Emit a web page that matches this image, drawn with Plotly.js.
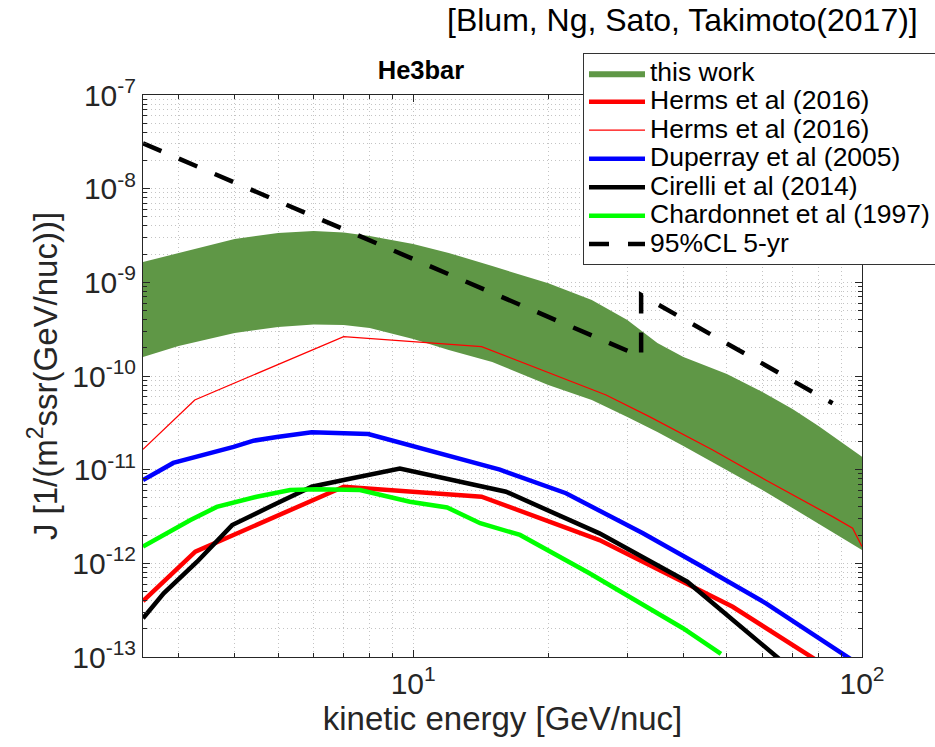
<!DOCTYPE html>
<html><head><meta charset="utf-8">
<script src="https://cdn.plot.ly/plotly-3.0.1.min.js"></script>
<style>html,body{margin:0;padding:0;background:#fff}</style>
</head><body>
<div id="chart" style="width:935px;height:747px"></div>
<script>
// ---- data ----
const bandE    = [2.5, 3, 4, 5, 6, 7, 8, 10, 12, 15, 20, 25, 30, 35, 40, 50, 60, 70, 80, 100];
const bandLow  = [1.60e-10, 2.09e-10, 2.88e-10, 3.34e-10, 3.55e-10, 3.51e-10, 3.26e-10, 2.48e-10, 1.90e-10, 1.41e-10,
                  8.02e-11, 5.55e-11, 3.65e-11, 2.52e-11, 1.79e-11, 9.93e-12, 6.07e-12, 3.90e-12, 2.63e-12, 1.39e-12];
const bandHigh = [1.65e-9, 2.06e-9, 2.90e-9, 3.36e-9, 3.53e-9, 3.40e-9, 3.13e-9, 2.56e-9, 2.06e-9, 1.49e-9,
                  9.8e-10, 6.48e-10, 3.96e-10, 2.25e-10, 1.60e-10, 1.05e-10, 6.75e-11, 4.44e-11, 2.92e-11, 1.37e-11];

const hermsE = [2.5, 3.27, 7.0, 14.2, 26.0, 40.6, 51.5, 80];
const hermsJ = [3.96e-13, 1.33e-12, 6.58e-12, 5.15e-12, 1.77e-12, 6.12e-13, 3.44e-13, 8.95e-14];

const hermsThinE = [2.5, 3.26, 7.0, 14.2, 26.9, 33.6, 46.5, 61.0, 86.0, 95.3, 100];
const hermsThinJ = [1.65e-11, 5.55e-11, 2.63e-10, 2.06e-10, 6.27e-11, 3.68e-11, 1.62e-11, 7.76e-12, 3.15e-12, 2.37e-12, 1.51e-12];

const duperrayE = [2.5, 2.92, 3.98, 4.41, 4.97, 5.94, 7.94, 9.83, 12.9, 15.6, 21.9, 32.5, 43.4, 61.1, 95];
const duperrayJ = [7.76e-12, 1.18e-11, 1.75e-11, 2.04e-11, 2.23e-11, 2.51e-11, 2.40e-11, 1.83e-11, 1.27e-11, 1.00e-11,
                   5.6e-12, 2.09e-12, 9.6e-13, 3.74e-13, 9.3e-14];

const cirelliE = [2.5, 2.78, 3.30, 3.95, 4.88, 5.94, 7.0, 8.0, 9.34, 16.1, 26.0, 40.8, 66];
const cirelliJ = [2.59e-13, 4.79e-13, 1.04e-12, 2.56e-12, 4.2e-12, 6.58e-12, 7.76e-12, 8.77e-12, 1.03e-11, 5.82e-12,
                  2.09e-12, 6.37e-13, 9.2e-14];

const chardonnetE = [2.5, 3.19, 3.65, 4.48, 5.32, 6.10, 7.61, 9.83, 11.9, 14.1, 17.3, 24.7, 39.9, 48.5];
const chardonnetJ = [1.51e-12, 2.9e-12, 4.0e-12, 5.14e-12, 6.07e-12, 6.17e-12, 6.07e-12, 4.55e-12, 3.95e-12, 2.68e-12,
                     2.01e-12, 7.83e-13, 2.03e-13, 1.08e-13];

const clE = [2.5, 32.2, 32.2, 86];
const clJ = [3.05e-8, 1.61e-10, 7.33e-10, 5.11e-11];

const seriesNames = ['this work', 'Herms et al (2016)', 'Herms et al (2016)', 'Duperray et al (2005)',
                     'Cirelli et al (2014)', 'Chardonnet et al (1997)', '95%CL 5-yr'];

const xTickVals = [10, 100];
const xTickText = ['10<sup>1</sup>', '10<sup>2</sup>'];
const xMinorVals = [3, 4, 5, 6, 7, 8, 9, 20, 30, 40, 50, 60, 70, 80, 90];
const yTickVals = [1e-13, 1e-12, 1e-11, 1e-10, 1e-9, 1e-8, 1e-7];
const yTickText = ['10<sup>-13</sup>', '10<sup>-12</sup>', '10<sup>-11</sup>', '10<sup>-10</sup>',
                   '10<sup>-9</sup>', '10<sup>-8</sup>', '10<sup>-7</sup>'];
const yMinorVals = [2e-13,3e-13,4e-13,5e-13,6e-13,7e-13,8e-13,9e-13,
                    2e-12,3e-12,4e-12,5e-12,6e-12,7e-12,8e-12,9e-12,
                    2e-11,3e-11,4e-11,5e-11,6e-11,7e-11,8e-11,9e-11,
                    2e-10,3e-10,4e-10,5e-10,6e-10,7e-10,8e-10,9e-10,
                    2e-9,3e-9,4e-9,5e-9,6e-9,7e-9,8e-9,9e-9,
                    2e-8,3e-8,4e-8,5e-8,6e-8,7e-8,8e-8,9e-8];

// ---- styling ----
const FONT = 'Liberation Sans, Arial, Helvetica, sans-serif';
const AX = '#262626';
const GRID = '#c4c4c4';
const BAND = '#5f9746';
const LEG_FS = 26.5;
const nm = s => '<span style="font-size:' + LEG_FS + 'px">' + s + '</span>';

const traces = [
  {x: bandE, y: bandLow, mode: 'lines', line: {width: 0, color: BAND}, showlegend: false, hoverinfo: 'skip'},
  {x: bandE, y: bandHigh, mode: 'lines', fill: 'tonexty', fillcolor: BAND, line: {width: 0, color: BAND}, name: nm(seriesNames[0])},
  {x: hermsE, y: hermsJ, mode: 'lines', line: {color: '#ff0000', width: 4.5}, name: nm(seriesNames[1])},
  {x: hermsThinE, y: hermsThinJ, mode: 'lines', line: {color: '#ff0000', width: 1.3}, name: nm(seriesNames[2])},
  {x: duperrayE, y: duperrayJ, mode: 'lines', line: {color: '#0000ff', width: 4.5}, name: nm(seriesNames[3])},
  {x: cirelliE, y: cirelliJ, mode: 'lines', line: {color: '#000000', width: 4.5}, name: nm(seriesNames[4])},
  {x: chardonnetE, y: chardonnetJ, mode: 'lines', line: {color: '#00ff00', width: 4.5}, name: nm(seriesNames[5])},
  {x: clE, y: clJ, mode: 'lines', line: {color: '#000000', width: 4.5, dash: '20px,19px'}, name: nm(seriesNames[6])}
];

const L = 143, R = 862, T = 95, B = 657, W = 935, H = 747;
const pw = R - L, ph = B - T;

function axisCommon() {
  return {
    type: 'log', tickmode: 'array', ticks: 'inside', ticklen: 7, tickwidth: 1, tickcolor: AX,
    showline: true, linecolor: AX, linewidth: 1, mirror: 'allticks',
    showgrid: true, gridcolor: GRID, gridwidth: 1, griddash: '1px,3px', zeroline: false,
    tickfont: {family: FONT, size: 30, color: AX}, automargin: false,
    minor: {tickmode: 'array', ticks: 'inside', ticklen: 4, tickwidth: 1, tickcolor: AX,
            showgrid: true, gridcolor: GRID, gridwidth: 1, griddash: '1px,3px'}
  };
}
const xaxis = Object.assign(axisCommon(), {
  range: [Math.log10(2.5), 2], tickvals: xTickVals, ticktext: xTickText,
  title: {text: 'kinetic energy [GeV/nuc]', font: {family: FONT, size: 33, color: AX}, standoff: 2}
});
xaxis.minor.tickvals = xMinorVals;
const yaxis = Object.assign(axisCommon(), {
  range: [-13, -7], tickvals: yTickVals, ticktext: yTickText,
  title: {text: 'J [1/(m<sup>2</sup>ssr(GeV/nuc))]', font: {family: FONT, size: 33, color: AX}, standoff: 4}
});
yaxis.minor.tickvals = yMinorVals;

const layout = {
  width: W, height: H,
  margin: {l: L, r: W - R, t: T, b: H - B, pad: 0, autoexpand: false},
  paper_bgcolor: '#ffffff', plot_bgcolor: '#ffffff',
  font: {family: FONT, color: AX},
  title: {text: '<b>He3bar</b>', font: {family: FONT, size: 25.5, color: '#000'},
          xref: 'container', yref: 'container', x: 421 / W, y: 1 - 70 / H, xanchor: 'center', yanchor: 'middle'},
  xaxis: xaxis, yaxis: yaxis,
  showlegend: true,
  legend: {x: (583 - L) / pw, y: 1 + (T - 53) / ph, xanchor: 'left', yanchor: 'top',
           bgcolor: '#ffffff', bordercolor: '#333333', borderwidth: 1,
           font: {family: FONT, size: 19.6, color: '#000'}, itemwidth: 56, traceorder: 'normal'},
  annotations: [{text: '[Blum, Ng, Sato, Takimoto(2017)]', xref: 'paper', yref: 'paper',
                 x: (920 - L) / pw, y: 1 + (T - 20) / ph, xanchor: 'right', yanchor: 'middle',
                 showarrow: false, font: {family: FONT, size: 32, color: '#000'}}]
};

Plotly.newPlot('chart', traces, layout, {staticPlot: true, displayModeBar: false});
</script>
</body></html>
